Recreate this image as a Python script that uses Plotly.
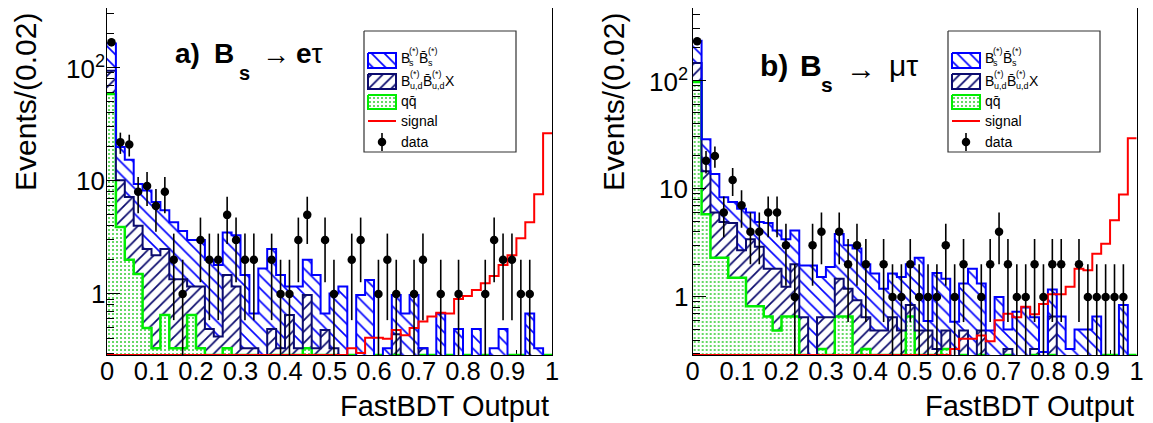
import numpy as np
import plotly.graph_objects as go

W, H = 1153, 423          # browser window
PAGE_OFF = 8              # default body margin of the html page
FW, FH = W - PAGE_OFF, H - PAGE_OFF
N_BINS = 50
X_MIN, X_MAX = 0.0, 1.0

# ---------------- panel a) Bs -> e tau ----------------
# stacked levels (events / 0.02)
qq_a = [58.6, 3.9, 2.0, 1.5, 0.50, 0.33, 0.65, 0.33, 0.33, 0.65,
        0.33, 0, 0, 0.33, 0, 0, 0, 0, 0, 0,
        0, 0, 0.33, 0, 0, 0, 0, 0, 0, 0,
        0, 0, 0, 0, 0, 0, 0, 0, 0, 0,
        0, 0, 0, 0, 0, 0, 0, 0, 0, 0]
qq_bud_a = [94, 10.1, 7.2, 4.0, 2.5, 2.2, 2.5, 1.35, 1.35, 1.16,
            1.16, 0.49, 0.42, 1.47, 1.16, 0.33, 0.33, 0, 0.49, 0.33,
            0.65, 0.33, 0.98, 0.33, 0.48, 0.33, 0, 0, 0, 0,
            0, 0, 0.44, 0, 0, 0.33, 0, 0, 0, 0,
            0, 0, 0, 0, 0, 0, 0, 0, 0, 0]
total_a = [164, 19.9, 15.4, 9.4, 8.2, 6.5, 5.5, 4.3, 3.6, 3.0,
           3.0, 2.0, 1.8, 3.5, 3.3, 1.47, 0.67, 1.68, 2.5, 1.47,
           1.16, 1.16, 2.0, 1.47, 0.67, 1.01, 1.16, 0, 0.98, 1.33,
           0, 0.33, 0.98, 0.67, 0.98, 0.33, 0, 0.67, 0, 0.49,
           0, 0.49, 0, 0.33, 0.49, 0, 0, 0.67, 0.33, 0]
signal_a = [0] * 27 + [0.33, 0.30, 0.41, 0.41, 0.40, 0.48, 0.43, 0.50, 0.57, 0.63,
                       0.68, 0.67, 0.90, 0.96, 1.08, 1.24, 1.44, 1.80, 2.2, 3.1,
                       4.3, 7.6, 26.4]
data_a = [168, 22, 21, 8, 9, 6, 8, 2, 1, 0,
          3, 2, 2, 5, 3, 2, 2, 0, 2, 1,
          1, 3, 5, 0, 3, 1, 0, 2, 3, 0,
          1, 2, 1, 0, 1, 2, 0, 1, 0, 1,
          0, 0, 1, 3, 2, 2, 1, 1, 0, 0]

# ---------------- panel b) Bs -> mu tau ----------------
qq_b = [96, 5.8, 2.3, 2.3, 1.5, 1.5, 0.82, 0.82, 0.66, 0.49,
        0.66, 0.66, 0, 0, 0.33, 0, 0.66, 0.66, 0, 0.33,
        0, 0, 0, 0, 0.66, 0, 0, 0, 0.33, 0,
        0, 0, 0, 0, 0, 0, 0, 0, 0, 0,
        0, 0, 0, 0, 0, 0, 0, 0, 0, 0]
qq_bud_b = [144, 14.4, 6.0, 4.9, 4.8, 2.7, 3.4, 2.9, 1.82, 1.82,
            1.24, 2.0, 0.65, 0, 0.65, 0.65, 1.47, 1.19, 0.93, 0.65,
            0.49, 0.49, 0.65, 0.49, 0.84, 0.49, 0.49, 0.33, 0.49, 0,
            0.49, 0, 0.49, 0, 0, 0.33, 0, 0, 0.33, 0,
            0.66, 0, 0, 0, 0, 0, 0, 0, 0, 0]
total_b = [231, 28.5, 13.6, 8.3, 7.5, 6.5, 6.0, 4.9, 4.8, 4.1,
           3.4, 4.1, 1.95, 1.95, 1.53, 1.89, 3.8, 3.0, 2.8, 2.0,
           1.64, 1.19, 1.64, 1.53, 2.0, 2.3, 0.6, 1.66, 1.47, 0.59,
           1.33, 1.82, 1.33, 0.49, 1.0, 0.5, 0.73, 0.8, 0.65, 0.31,
           1.17, 0.66, 0.33, 0.5, 0.5, 0.66, 0, 0, 0.84, 0]
signal_b = [0] * 29 + [0.33, 0.41, 0.41, 0.44, 0.39, 0.61, 0.70, 0.65, 0.81, 0.69,
                       0.86, 1.06, 1.06, 1.24, 1.82, 1.76, 2.5, 3.1, 5.1, 8.8,
                       29.1]
data_b = [228, 18, 20, 6, 12, 7, 4, 4, 6, 6,
          3, 1, 0, 3, 4, 0, 4, 2, 3, 2,
          0, 2, 1, 1, 2, 1, 1, 1, 3, 1,
          2, 0, 1, 2, 4, 2, 1, 1, 2, 1,
          2, 2, 0, 2, 1, 1, 1, 1, 1, 0]

x_ticks = [0, 0.1, 0.2, 0.3, 0.4, 0.5, 0.6, 0.7, 0.8, 0.9, 1]
x_tick_text = ["0", "0.1", "0.2", "0.3", "0.4", "0.5", "0.6", "0.7", "0.8", "0.9", "1"]
y_ticks = [1, 10, 100]
y_tick_text = ["1", "10", "10<sup>2</sup>"]

BLUE = "#0000ff"
NAVY = "#0b0b6e"
GREEN = "#00ee00"
RED = "#ff0000"
FONT = "Liberation Sans, Arial, sans-serif"


def fx(sx):  # screen pixel -> paper fraction
    return min(1.0, max(0.0, (sx - PAGE_OFF) / FW))


def fy(sy):
    return min(1.0, max(0.0, 1 - (sy - PAGE_OFF) / FH))


edges = np.linspace(X_MIN, X_MAX, N_BINS + 1)
centers = 0.5 * (edges[:-1] + edges[1:])


def step_y(vals, floor):
    v = np.asarray(vals, dtype=float)
    v = np.where(v > 0, v, floor)
    return np.append(v, v[-1])


panels = [
    dict(xa="x", ya="y", qq=qq_a, mid=qq_bud_a, tot=total_a, sig=signal_a, data=data_a,
         yr=(0.288, 338.0), px=(107, 552), lab_x=106),
    dict(xa="x2", ya="y2", qq=qq_b, mid=qq_bud_b, tot=total_b, sig=signal_b, data=data_b,
         yr=(0.291, 463.0), px=(692.7, 1136.7), lab_x=689),
]

fig = go.Figure()
DEEP = 1e-3
for p in panels:
    xa, ya = p["xa"], p["ya"]
    ymin = p["yr"][0]
    common = dict(xaxis=xa, yaxis=ya, mode="lines", line_shape="hv", hoverinfo="skip",
                  showlegend=False)
    fig.add_trace(go.Scatter(x=edges, y=np.full(N_BINS + 1, DEEP), line=dict(width=0), **common))
    fig.add_trace(go.Scatter(x=edges, y=step_y(p["qq"], ymin), fill="tonexty",
                             fillcolor="rgba(0,0,0,0)",
                             fillpattern=dict(shape=".", fgcolor="#33cc33", bgcolor="white",
                                              size=4, solidity=0.2),
                             line=dict(color=GREEN, width=2.5), **common))
    fig.add_trace(go.Scatter(x=edges, y=step_y(p["mid"], DEEP), fill="tonexty",
                             fillcolor="rgba(0,0,0,0)",
                             fillpattern=dict(shape="/", fgcolor=NAVY, bgcolor="white",
                                              size=8, solidity=0.22),
                             line=dict(color=NAVY, width=2), **common))
    fig.add_trace(go.Scatter(x=edges, y=step_y(p["tot"], DEEP), fill="tonexty",
                             fillcolor="rgba(0,0,0,0)",
                             fillpattern=dict(shape="\\", fgcolor=BLUE, bgcolor="white",
                                              size=9, solidity=0.18),
                             line=dict(color=BLUE, width=2), **common))
    fig.add_trace(go.Scatter(x=edges, y=step_y(p["sig"], ymin),
                             line=dict(color=RED, width=2), **common))
    n = np.asarray(p["data"], dtype=float)
    m = n > 0
    err = np.sqrt(n[m])
    fig.add_trace(go.Scatter(x=centers[m], y=n[m], xaxis=xa, yaxis=ya, mode="markers",
                             marker=dict(color="black", size=8.5),
                             error_y=dict(type="data", array=err, arrayminus=err, symmetric=False,
                                          width=0, thickness=1.6, color="black"),
                             hoverinfo="skip", showlegend=False))

layout = dict(template="none", width=FW, height=FH,
              margin=dict(l=0, r=0, t=0, b=0, pad=0, autoexpand=False),
              paper_bgcolor="white", plot_bgcolor="rgba(0,0,0,0)", showlegend=False,
              font=dict(family=FONT, color="black"))

ydom = [fy(355), fy(8)]
for i, p in enumerate(panels):
    sx = "" if i == 0 else "2"
    layout["xaxis" + sx] = dict(
        domain=[fx(p["px"][0]), fx(p["px"][1])], anchor="y" + sx, range=[X_MIN, X_MAX],
        tickvals=x_ticks, ticktext=x_tick_text, ticks="inside", ticklen=10, tickwidth=1,
        tickcolor="black", minor=dict(dtick=0.02, ticks="inside", ticklen=5, tickcolor="black"),
        showline=True, mirror=True, linecolor="black", linewidth=1, showgrid=False,
        zeroline=False, tickfont=dict(size=25.5, family=FONT, color="black"), layer="below traces",
        ticklabelstandoff=-7, fixedrange=True, automargin=False)
    layout["yaxis" + sx] = dict(
        domain=ydom, anchor="x" + sx, type="log",
        range=[np.log10(p["yr"][0]), np.log10(p["yr"][1])],
        tickvals=y_ticks, ticks="inside", ticklen=13, tickwidth=1, tickcolor="black",
        showticklabels=False,
        minor=dict(tickvals=[0.3, 0.4, 0.5, 0.6, 0.7, 0.8, 0.9, 2, 3, 4, 5, 6, 7, 8, 9,
                             20, 30, 40, 50, 60, 70, 80, 90, 200, 300, 400],
                   ticks="inside", ticklen=7, tickcolor="black"),
        showline=True, mirror=True, linecolor="black", linewidth=1, showgrid=False,
        zeroline=False, fixedrange=True, automargin=False)

# overlay axes in screen pixels for the legend boxes
layout["xaxis3"] = dict(domain=[0, 1], anchor="y3", range=[PAGE_OFF, W], visible=False,
                        fixedrange=True, automargin=False, showgrid=False, zeroline=False)
layout["yaxis3"] = dict(domain=[0, 1], anchor="x3", range=[H, PAGE_OFF], visible=False,
                        fixedrange=True, automargin=False, showgrid=False, zeroline=False)
fig.update_layout(**layout)


def rect(x0, x1, y0, y1):
    return [x0, x1, x1, x0, x0], [y0, y0, y1, y1, y0]


annotations = []


def label(text, x, y, size, anchor="left"):
    annotations.append(dict(text=text, x=fx(x), y=fy(y), xref="paper", yref="paper",
                            xanchor=anchor, yanchor="middle", showarrow=False, borderpad=0,
                            font=dict(size=size, family=FONT, color="black")))


# y tick labels, right-aligned next to the frame, at the axis tick values
for p in panels:
    for val, txt in zip(y_ticks, y_tick_text):
        annotations.append(dict(text=txt, x=fx(p["lab_x"]), y=np.log10(val), xref="paper",
                                yref=p["ya"], xanchor="right", yanchor="middle", showarrow=False,
                                borderpad=0, font=dict(size=26, family=FONT, color="black")))

# legend pieces: (text, dx from box, y, font size) -- sub/superscripts stacked like ROOT
legend_pieces = [
    ("B", 36, 58, 14), ("(*)", 44, 51, 9), ("s", 44, 63, 9),
    ("B\u0304", 54, 58, 14), ("(*)", 63, 51, 9), ("s", 63, 63, 9),
    ("B", 36, 81, 14), ("(*)", 45, 74, 9), ("u,d", 45, 86, 9),
    ("B\u0304", 58, 81, 14), ("(*)", 67, 74, 9), ("u,d", 67, 86, 9), ("X", 80, 81, 14),
    ("qq\u0304", 36, 101, 14), ("signal", 36, 121, 14), ("data", 36, 142, 14),
]
for bx in (364, 948):
    lx = dict(xaxis="x3", yaxis="y3", hoverinfo="skip", showlegend=False)
    xs, ys = rect(bx, bx + 152, 31, 152)
    fig.add_trace(go.Scatter(x=xs, y=ys, mode="lines", fill="toself", fillcolor="white",
                             line=dict(color="#333333", width=1.2), **lx))
    sw = [(53, 68, BLUE, "\\", 0.18, 9), (74, 89, NAVY, "/", 0.22, 8), (95, 109, GREEN, ".", 0.2, 4)]
    for y0, y1, col, shp, sol, sz in sw:
        xs, ys = rect(bx + 4, bx + 32, y0, y1)
        fig.add_trace(go.Scatter(x=xs, y=ys, mode="lines", fill="toself", fillcolor="rgba(0,0,0,0)",
                                 fillpattern=dict(shape=shp, fgcolor=col if shp != "." else "#33cc33",
                                                  bgcolor="white", size=sz, solidity=sol),
                                 line=dict(color=col, width=2), **lx))
    fig.add_trace(go.Scatter(x=[bx + 4, bx + 32], y=[121, 121], mode="lines",
                             line=dict(color=RED, width=2), **lx))
    fig.add_trace(go.Scatter(x=[bx + 18, bx + 18], y=[133, 151], mode="lines",
                             line=dict(color="black", width=1.6), **lx))
    fig.add_trace(go.Scatter(x=[bx + 18], y=[142], mode="markers",
                             marker=dict(color="black", size=8.5), **lx))
    for txt, dx, yy, sz in legend_pieces:
        label(txt, bx + dx, yy, sz)

# axis titles
for cx in (25, 613):
    annotations.append(dict(text="Events/(0.02)", x=fx(cx), y=fy(102), xref="paper", yref="paper",
                            xanchor="center", yanchor="middle", textangle=-90, showarrow=False,
                            font=dict(size=30, family=FONT, color="black")))
for rx in (551, 1136):
    annotations.append(dict(text="FastBDT Output", x=fx(rx), y=fy(406), xref="paper", yref="paper",
                            xanchor="right", yanchor="middle", showarrow=False,
                            font=dict(size=29, family=FONT, color="black")))

# panel labels: pieces placed like the original
label("<b>a)</b>", 174, 53, 28)
label("<b>B</b>", 213, 53, 28)
label("<b>s</b>", 238, 73, 20)
label("\u2192", 276, 55, 28, "center")
label("<b>e</b>\u03c4", 295, 53, 28)
label("<b>b)</b>", 759, 66, 30)
label("<b>B</b>", 799, 66, 30)
label("<b>s</b>", 820, 84, 21)
label("\u2192", 861, 68, 30, "center")
label("\u03bc\u03c4", 888, 66, 30)

fig.update_layout(annotations=annotations)
fig.write_html("out.html")
